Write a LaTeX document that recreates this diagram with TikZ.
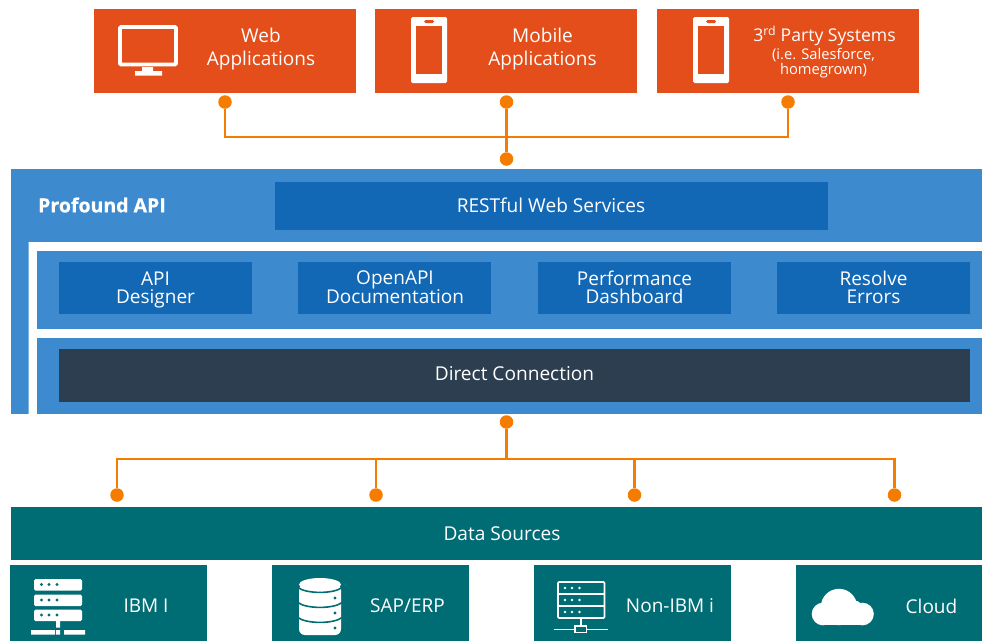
\documentclass[tikz,border=0pt]{standalone}
\usepackage{fontspec}
\setmainfont{Open Sans}
\newfontfamily\heavyfont{Open Sans}[BoldFeatures={FakeBold=0.6}]
\definecolor{boxorange}{HTML}{E34E1A}
\definecolor{linkorange}{HTML}{F57C00}
\definecolor{apiblue}{HTML}{3D8BCE}
\definecolor{deepblue}{HTML}{1268B5}
\definecolor{slate}{HTML}{2C3E50}
\definecolor{teal}{HTML}{006D75}
\tikzset{
  x=1pt,y=-1pt,
  plate/.style={draw=none,inner sep=0pt,outer sep=0pt,minimum width=#1,anchor=north west},
  orangebox/.style={plate=262pt,fill=boxorange,minimum height=84pt},
  bluebox/.style={plate=193pt,fill=deepblue,minimum height=52pt},
  tealbox/.style={plate=197pt,fill=teal,minimum height=76pt},
  label/.style={text=white,align=center,inner sep=0pt,font=\fontsize{19}{23}\selectfont},
  toollabel/.style={label,font=\fontsize{19}{18}\selectfont},
  bandtext/.style={label,font=\fontsize{19.1}{20}\selectfont},
  dot/.style={circle,fill=linkorange,draw=none,minimum size=13.5pt,inner sep=0pt},
  link/.style={draw=linkorange,line width=2.6pt},
  icon/.style={line width=3.6pt,draw=white,rounded corners=1pt},
  thin icon/.style={line width=1.6pt,draw=white,rounded corners=1pt}
}
\begin{document}
\begin{tikzpicture}
\useasboundingbox (0,0) rectangle (982,641);
% top boxes
\node[orangebox] (web) at (94,9) {};
\node[orangebox] (mobile) at (375,9) {};
\node[orangebox] (third) at (657,9) {};
\node[label] (webt) at (261,49.5) {Web\\Applications};
\node[label] (mobt) at (542.5,49.5) {Mobile\\Applications};
\node[label,font=\fontsize{17.6}{20}\selectfont] (thirdt) at (824.5,36) {3\textsuperscript{rd} Party Systems};
\node[label,font=\fontsize{14.7}{15.5}\selectfont] (thirds) at (823.5,63) {(i.e. Salesforce,\\homegrown)};
% monitor
\draw[icon] (120,27) rectangle (176,64.5);
\fill[white] (142,67) rectangle (153,71.5) (135,71) rectangle (162,75.5);
% phones
\foreach \dx in {0,282}{
  \fill[white,rounded corners=1.5pt] (411+\dx,17) rectangle (447+\dx,83);
  \fill[boxorange] (415.5+\dx,26) rectangle (442+\dx,74);
  \fill[boxorange,rounded corners=1.5pt] (424+\dx,20) rectangle (434+\dx,23);
}
% API panel
\path[fill=apiblue] (11,169) rectangle (982,414);
\path[fill=white] (28.5,242) rectangle (982,251) (28.5,242) rectangle (37,414);
\node[plate=945pt,fill=apiblue,minimum height=78pt] (tools) at (37,251) {};
\path[fill=white] (37,329) rectangle (982,338);
\node[plate=945pt,fill=apiblue,minimum height=76pt] (conn) at (37,338) {};
\node[text=white,inner sep=0pt,font=\fontsize{19.5}{20}\heavyfont\bfseries] (api) at (102,205) {Profound API};
\node[plate=553pt,fill=deepblue,minimum height=48pt] (rest) at (275,182) {};
\node[bandtext] (restt) at (551,205) {RESTful Web Services};
\node[bluebox] (designer) at (59,262) {};
\node[bluebox] (openapi) at (298,262) {};
\node[bluebox] (perf) at (538,262) {};
\node[bluebox] (errors) at (777,262) {};
\node[toollabel] (designert) at (155.5,290) {API\\Designer};
\node[toollabel] (openapit) at (395,287) {OpenAPI\\Documentation};
\node[toollabel] (perft) at (634.5,287) {Performance\\Dashboard};
\node[toollabel] (errorst) at (873.5,287) {Resolve\\Errors};
\node[plate=911pt,fill=slate,minimum height=53pt] (direct) at (59,349) {};
\node[bandtext] (directt) at (514.5,373.6) {Direct Connection};
% data
\node[plate=971pt,fill=teal,minimum height=53pt] (data) at (11,507) {};
\node[bandtext] (datat) at (502,533.6) {Data Sources};
\node[tealbox] (ibm) at (10,565) {};
\node[tealbox] (sap) at (272,565) {};
\node[tealbox] (nonibm) at (534,565) {};
\node[plate=186pt,fill=teal,minimum height=76pt] (cloud) at (796,565) {};
\node[label] (ibmt) at (146,606) {IBM I};
\node[label] (sapt) at (407.5,606) {SAP/ERP};
\node[label] (nont) at (670,606) {Non-IBM i};
\node[label] (cloudt) at (931.5,606) {Cloud};
% server icon
\foreach \y in {579,594.5,609.5}{
  \fill[white,rounded corners=1.5pt] (34,\y) rectangle (82,\y+11.5);
  \foreach \x in {41.5,49,57}{\fill[teal] (\x,\y+5.5) circle (1.6);}
}
\fill[white] (56,621) rectangle (60,627.5) (31,630) rectangle (55,634.5) (56,630) rectangle (60,634.5) (64,630) rectangle (85,634.5);
% database icon
\fill[white,rounded corners=6pt] (299,584) rectangle (341,635);
\fill[white] (320,584.5) ellipse (21 and 6.5);
\foreach \y in {591.5,606.5,621.5}{
  \draw[teal,line width=1.6pt] (298,\y-4) .. controls (306,\y+2.5) and (334,\y+2.5) .. (342,\y-4);
}
\foreach \y in {598,613,628}{\fill[teal] (335,\y) circle (1.7);}
% network icon
\draw[thin icon] (558,582) rectangle (604.5,618);
\draw[white,line width=1.6pt] (558,594) -- (604.5,594) (558,606) -- (604.5,606) (581,618) -- (581,626) (554,629.5) -- (575,629.5) (587,629.5) -- (608,629.5);
\draw[white,line width=1.6pt] (575,626) rectangle (586.5,632.5);
\foreach \y in {588,600,612}{\foreach \x in {565,572,579.5}{\fill[white] (\x,\y) circle (1.4);}}
% cloud icon
\fill[white] (839,607) circle (18.2) (823,614) circle (11.3) (862.5,614) circle (11.3) (854,610) circle (9.5);
\fill[white] (823,608) rectangle (862.5,625.3);
% connectors
\node[dot] (d1) at (225,102) {};
\node[dot] (d2) at (506.5,102) {};
\node[dot] (d3) at (788,102) {};
\node[dot] (hubtop) at (506.5,159) {};
\coordinate (tj) at (506.5,137);
\draw[link] (d1) |- (tj);
\draw[link] (d3) |- (tj);
\draw[link] (d2) -- (hubtop);
\node[dot] (hubbot) at (506.5,422) {};
\node[dot] (s1) at (117,495) {};
\node[dot] (s2) at (376,495) {};
\node[dot] (s3) at (634.5,495) {};
\node[dot] (s4) at (894.5,495) {};
\coordinate (bj) at (506.5,459);
\draw[link] (hubbot) -- (bj);
\draw[link] (s1) |- (bj);
\draw[link] (s2) |- (bj);
\draw[link] (s3) |- (bj);
\draw[link] (s4) |- (bj);
\end{tikzpicture}
\end{document}
